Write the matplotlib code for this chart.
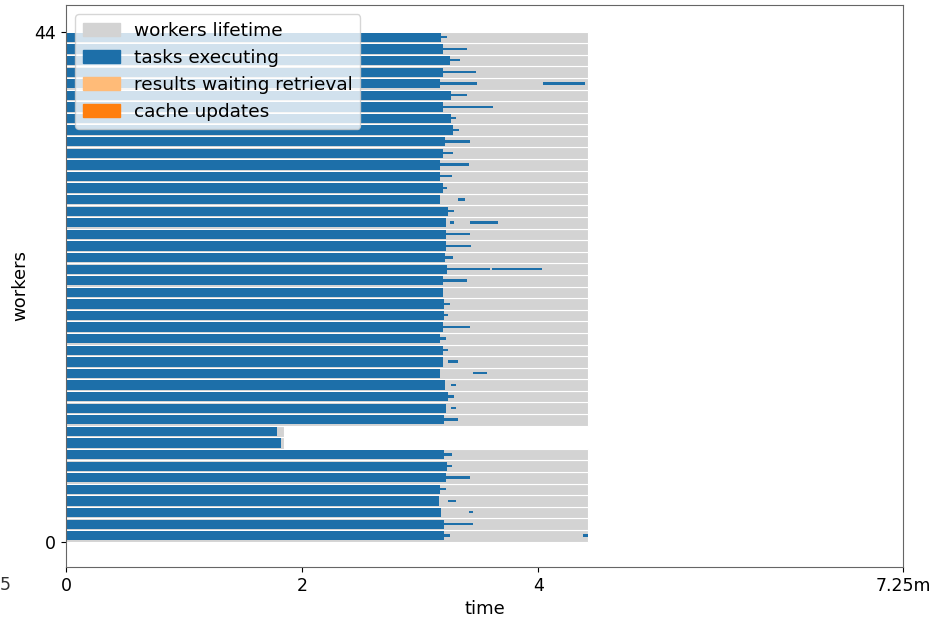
import matplotlib
matplotlib.use('Agg')
import matplotlib.pyplot as plt
from matplotlib.patches import Patch

# worker rows 0..43
workers = list(range(44))

# end of each worker's lifetime (minutes, scaled axis)
lifetime_end = [4.42, 4.42, 4.42, 4.42, 4.42, 4.42, 4.42, 4.42, 1.85, 1.85,
                4.42, 4.42, 4.42, 4.42, 4.42, 4.42, 4.42, 4.42, 4.42, 4.42,
                4.42, 4.42, 4.42, 4.42, 4.42, 4.42, 4.42, 4.42, 4.42, 4.42,
                4.42, 4.42, 4.42, 4.42, 4.42, 4.42, 4.42, 4.42, 4.42, 4.42,
                4.42, 4.42, 4.42, 4.42]

# end of the main block of executing tasks per worker
main_end = [3.20, 3.20, 3.18, 3.16, 3.17, 3.22, 3.23, 3.20, 1.82, 1.79,
            3.20, 3.22, 3.24, 3.21, 3.17, 3.19, 3.19, 3.17, 3.19, 3.20,
            3.20, 3.19, 3.19, 3.23, 3.21, 3.22, 3.22, 3.22, 3.24, 3.17,
            3.19, 3.17, 3.17, 3.19, 3.21, 3.28, 3.26, 3.19, 3.26, 3.17,
            3.19, 3.25, 3.19, 3.18]

# straggler tasks after the main block
tail_worker = [0, 0, 1, 1, 1, 2, 3, 4, 5, 6, 7, 10, 11, 12, 13, 14, 15, 16, 17, 18,
               19, 20, 22, 23, 23, 24, 25, 26, 27, 27, 28, 29, 30, 31, 32, 33, 34,
               35, 36, 37, 38, 39, 39, 40, 41, 42, 43]
tail_start = [3.20, 4.38, 3.20, 3.25, 3.33, 3.41, 3.24, 3.17, 3.22, 3.23, 3.20, 3.20,
              3.26, 3.24, 3.26, 3.45, 3.24, 3.19, 3.17, 3.19, 3.20, 3.20, 3.19, 3.23,
              3.61, 3.21, 3.22, 3.22, 3.25, 3.42, 3.24, 3.32, 3.19, 3.17, 3.17, 3.19,
              3.21, 3.28, 3.26, 3.19, 3.26, 3.17, 4.04, 3.19, 3.25, 3.19, 3.18]
tail_end = [3.25, 4.42, 3.45, 3.29, 3.36, 3.45, 3.30, 3.22, 3.42, 3.27, 3.27, 3.32,
            3.30, 3.29, 3.30, 3.57, 3.32, 3.24, 3.22, 3.42, 3.24, 3.25, 3.40, 3.59,
            4.03, 3.28, 3.43, 3.42, 3.29, 3.66, 3.29, 3.38, 3.23, 3.27, 3.41, 3.28,
            3.42, 3.33, 3.30, 3.62, 3.40, 3.48, 4.40, 3.47, 3.34, 3.40, 3.23]

x_max = 7.09
blue = '#1d6fa9'

fig, ax = plt.subplots(figsize=(9.51, 6.17), dpi=100)
fig.subplots_adjust(left=0.0694, right=0.9495, bottom=0.081, top=0.992)

# workers lifetime
ax.barh(workers, lifetime_end, height=1, left=0, align='edge',
        color='lightgray', edgecolor='white', linewidth=0.8)

# main block of tasks
ax.barh([w + 0.1 for w in workers], main_end, height=0.8, left=0, align='edge',
        color=blue, linewidth=0)

# stragglers
ax.barh([w + 0.42 for w in tail_worker],
        [e - s for s, e in zip(tail_start, tail_end)],
        height=0.2, left=tail_start, align='edge', color=blue, linewidth=0)

ax.set_xlim(0, x_max)
ax.set_ylim(-2.2, 46.3)
ax.set_xticks([0, 2, 4, x_max])
ax.set_xticklabels(['0', '2', '4', '7.25m'])
ax.set_yticks([0, 44])
ax.tick_params(labelsize=12.5)
ax.set_xlabel('time', fontsize=13)
ax.set_ylabel('workers', fontsize=13)
for s in ax.spines.values():
    s.set_color('#666666')

handles = [Patch(color='lightgray', label='workers lifetime'),
           Patch(color=blue, label='tasks executing'),
           Patch(color='#ffbb78', label='results waiting retrieval'),
           Patch(color='#ff7f0e', label='cache updates')]
ax.legend(handles=handles, loc='upper left', fontsize=13.3)

# cut-off label on the left edge
fig.text(0.0, 0.052, '5', fontsize=12.5, ha='left', va='center', color='#333333')

fig.savefig('out.png')
